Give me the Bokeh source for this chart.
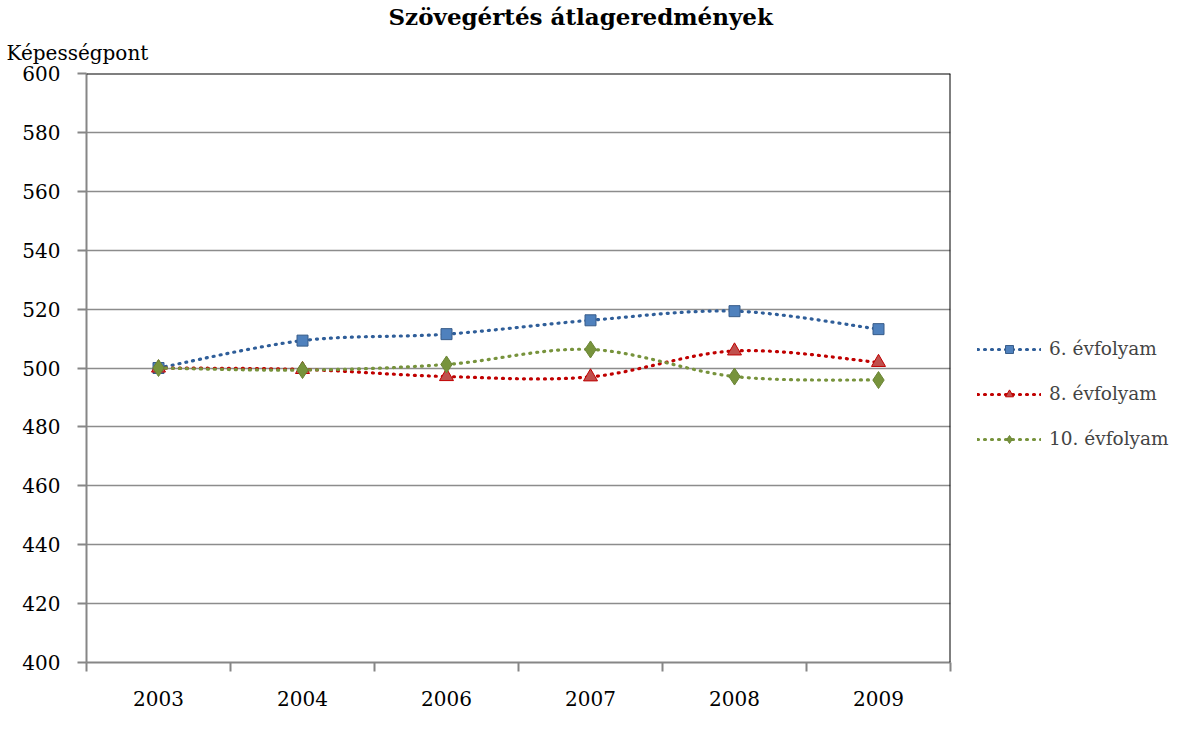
import numpy as np
from bokeh.plotting import figure
from bokeh.models import (FixedTicker, Legend, LegendItem, Span, Range1d, Title)
from bokeh.embed import file_html
from bokeh.resources import INLINE

# ---- data ----
years = ["2003", "2004", "2006", "2007", "2008", "2009"]
grade6 = [500, 509.3, 511.5, 516.2, 519.3, 513.2]
grade8 = [500, 499.5, 497.1, 497.0, 505.8, 501.9]
grade10 = [500, 499.3, 501.2, 506.3, 497.1, 495.9]
series_names = ["6. évfolyam", "8. évfolyam", "10. évfolyam"]
y_ticks = list(range(400, 601, 20))
title_text = "Szövegértés átlageredmények"
y_label_text = "Képességpont"

FONT = "DejaVu Serif"

xs = np.arange(len(years)) + 0.5

p = figure(frame_width=864, frame_height=589,
           min_border_left=86, min_border_right=213, min_border_top=64, min_border_bottom=53,
           x_range=Range1d(0, len(years)), y_range=Range1d(y_ticks[0], y_ticks[-1]),
           output_backend="svg", toolbar_location=None)
p.title.visible = False
p.outline_line_color = None
p.background_fill_color = "white"
p.border_fill_color = "white"

# axes
p.xaxis.ticker = FixedTicker(ticks=list(xs), minor_ticks=list(range(len(years) + 1)))
p.xaxis.major_label_overrides = {float(x): y for x, y in zip(xs, years)}
p.xaxis.major_tick_line_color = None
p.xaxis.major_tick_out = 0
p.xaxis.major_tick_in = 0
p.xaxis.minor_tick_out = 9
p.xaxis.minor_tick_in = 0
p.xaxis.minor_tick_line_color = "#868686"
p.xaxis.minor_tick_line_width = 2
p.xaxis.major_label_standoff = 19
p.yaxis.ticker = FixedTicker(ticks=y_ticks)
p.yaxis.minor_tick_line_color = None
p.yaxis.major_tick_out = 9
p.yaxis.major_tick_in = 0
p.yaxis.major_tick_line_color = "#868686"
p.yaxis.major_tick_line_width = 2
p.yaxis.major_label_standoff = 17
for ax in (p.xaxis, p.yaxis):
    ax.axis_line_color = "#868686"
    ax.axis_line_width = 2
    ax.major_label_text_font = FONT
    ax.major_label_text_font_size = "20px"
    ax.major_label_text_color = "black"

p.xgrid.grid_line_color = None
p.ygrid.grid_line_color = "#8c8c8c"
p.ygrid.grid_line_width = 1.5

# top / right border
p.add_layout(Span(location=y_ticks[-1], dimension="width", line_color="black", line_width=2))
p.add_layout(Span(location=len(years), dimension="height", line_color="black", line_width=2))


def bezier_parts(xv, yv):
    xv = np.asarray(xv, float)
    yv = np.asarray(yv, float)
    n = len(xv)
    xp = np.concatenate([[xv[0]], xv, [xv[-1]]])
    yp = np.concatenate([[yv[0]], yv, [yv[-1]]])
    cx0 = xv[:-1] + (xp[2:n + 1] - xp[0:n - 1]) / 6
    cy0 = yv[:-1] + (yp[2:n + 1] - yp[0:n - 1]) / 6
    cx1 = xv[1:] - (xp[3:n + 2] - xp[1:n]) / 6
    cy1 = yv[1:] - (yp[3:n + 2] - yp[1:n]) / 6
    return dict(x0=xv[:-1], y0=yv[:-1], x1=xv[1:], y1=yv[1:], cx0=cx0, cy0=cy0, cx1=cx1, cy1=cy1)


styles = [
    dict(vals=grade6, line="#2F5E99", marker="square", size=11, fill="#4F81BD", mline="#385D8A"),
    dict(vals=grade8, line="#C00000", marker="triangle", size=14, fill="#C0504D", mline="#C00000"),
    dict(vals=grade10, line="#77933C", marker="diamond", size=17, fill="#77933C", mline="#6B8536"),
]

items = []
for name, st in zip(series_names, styles):
    b = bezier_parts(xs, st["vals"])
    p.bezier(line_color=st["line"], line_width=3.2, line_dash="1 6", line_cap="round", **b)
    leg_line = p.line(x=[xs[0]], y=[st["vals"][0]], line_color=st["line"], line_width=3.2,
                      line_dash="1 6", line_cap="round")
    sc = p.scatter(xs, st["vals"], marker=st["marker"], size=st["size"], fill_color=st["fill"],
                   line_color=st["mline"], line_width=1)
    items.append(LegendItem(label=name, renderers=[leg_line, sc]))

legend = Legend(items=items, location=(27, 213), glyph_width=64, glyph_height=20, spacing=24,
                label_standoff=8, label_text_font=FONT, label_text_font_size="18.5px",
                border_line_color=None, background_fill_alpha=0, padding=0, margin=0)
p.add_layout(legend, "right")

p.add_layout(Title(text=y_label_text, text_font=FONT, text_font_size="20px",
                   text_font_style="normal", align="left", offset=-80, standoff=18,
                   text_color="black"), "above")
p.add_layout(Title(text=title_text, text_font=FONT, text_font_size="23px",
                   text_font_style="bold", align="left", offset=302, standoff=0,
                   text_color="black"), "above")

open("out.html", "w").write(file_html(p, INLINE))
